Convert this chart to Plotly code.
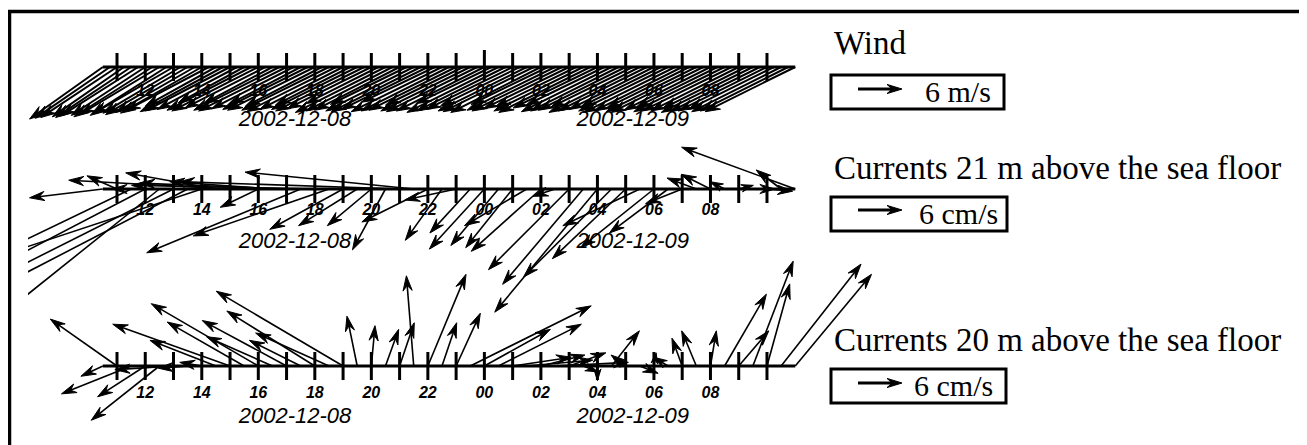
import math
import plotly.graph_objects as go

# ---------------- data ----------------
# wind samples every 15 min, hours since 2002-12-08 00:00
WIND_TIMES = [10.5, 10.75, 11.0, 11.25, 11.5, 11.75, 12.0, 12.25, 12.5, 12.75,
              13.0, 13.25, 13.5, 13.75, 14.0, 14.25, 14.5, 14.75, 15.0, 15.25,
              15.5, 15.75, 16.0, 16.25, 16.5, 16.75, 17.0, 17.25, 17.5, 17.75,
              18.0, 18.25, 18.5, 18.75, 19.0, 19.25, 19.5, 19.75, 20.0, 20.25,
              20.5, 20.75, 21.0, 21.25, 21.5, 21.75, 22.0, 22.25, 22.5, 22.75,
              23.0, 23.25, 23.5, 23.75, 24.0, 24.25, 24.5, 24.75, 25.0, 25.25,
              25.5, 25.75, 26.0, 26.25, 26.5, 26.75, 27.0, 27.25, 27.5, 27.75,
              28.0, 28.25, 28.5, 28.75, 29.0, 29.25, 29.5, 29.75, 30.0, 30.25,
              30.5, 30.75, 31.0, 31.25, 31.5, 31.75, 32.0, 32.25, 32.5, 32.75,
              33.0, 33.25, 33.5, 33.75, 34.0, 34.25, 34.5, 34.75, 35.0]
# wind, m/s (east, north)
WIND_U = [-10.0, -10.2, -10.4, -9.8, -10.3, -10.6, -10.1, -10.7, -10.9, -10.4,
          -11.0, -10.6, -11.2, -10.8, -11.1, -11.4,
          -9.6, -11.3, -11.6, -10.9, -9.0, -11.5, -11.8, -11.0, -9.4, -11.7,
          -12.0, -11.2, -9.8, -11.6, -11.9, -10.5,
          -11.9, -12.2, -11.4, -10.2, -11.7, -12.1, -11.5, -9.9, -12.3, -11.8,
          -11.6, -10.4, -12.0, -12.2, -11.8, -10.0,
          -12.4, -12.0, -11.9, -10.6, -12.2, -12.4, -12.0, -10.3, -12.5, -12.1,
          -11.8, -10.8, -12.1, -12.4, -12.3, -10.5,
          -12.0, -12.3, -11.7, -11.0, -12.2, -12.5, -11.5, -10.7, -12.3, -12.0,
          -11.9, -11.2, -12.4, -12.1, -11.6, -10.9,
          -12.2, -12.5, -12.0, -11.3, -12.3, -12.6, -11.8, -11.1, -12.4, -12.2,
          -12.0, -11.4, -12.5, -12.3, -12.1, -11.7,
          -12.2, -12.0, -12.3]
WIND_V = [-7.1, -7.0, -6.9, -6.8, -6.9, -6.7, -6.6, -6.8, -6.5, -6.6,
          -6.4, -6.3, -6.5, -6.2, -6.3, -6.0,
          -5.3, -6.1, -6.0, -5.8, -4.9, -5.9, -6.0, -5.6, -5.0, -5.9,
          -6.0, -5.7, -5.1, -5.8, -5.9, -5.4,
          -5.9, -6.1, -5.8, -5.2, -5.8, -6.0, -5.7, -5.0, -6.2, -6.0,
          -5.9, -5.1, -6.0, -6.1, -5.8, -4.8,
          -6.1, -6.0, -5.9, -5.2, -6.0, -6.1, -6.0, -5.0, -6.2, -6.0,
          -5.8, -5.3, -6.0, -6.1, -6.2, -5.1,
          -5.9, -6.0, -5.7, -5.4, -6.0, -6.2, -5.6, -5.2, -6.1, -6.0,
          -5.9, -5.5, -6.2, -6.0, -5.8, -5.4,
          -6.0, -6.2, -6.0, -5.6, -6.1, -6.2, -5.9, -5.5, -6.1, -6.0,
          -6.0, -5.7, -6.2, -6.1, -6.0, -5.8,
          -6.1, -6.0, -6.1]

# current samples every 30 min
CUR_TIMES = [10.5, 11.0, 11.5, 12.0, 12.5, 13.0, 13.5, 14.0, 14.5, 15.0,
             15.5, 16.0, 16.5, 17.0, 17.5, 18.0, 18.5, 19.0, 19.5, 20.0,
             20.5, 21.0, 21.5, 22.0, 22.5, 23.0, 23.5, 24.0, 24.5, 25.0,
             25.5, 26.0, 26.5, 27.0, 27.5, 28.0, 28.5, 29.0, 29.5, 30.0,
             30.5, 31.0, 31.5, 32.0, 32.5, 33.0, 33.5, 34.0, 34.5, 35.0]

# currents 21 m above the sea floor, cm/s
CUR21_U = [-10.0, -4.1, -17.7, -19.0, -20.5, -22.5, -24.5, -26.6, -12.3, -22.0,
           -18.0, -5.2, -14.0, -20.0, -21.0, -25.0, -18.5, -10.0, -8.0, -6.0,
           -4.5, -30.0, -23.0, -9.0, -5.0, -7.0, -5.5, -7.5, -6.5, -6.4,
           -8.5, -9.5, -3.0, -11.0, -11.0, -14.0, -12.0, -10.0, -10.5, -10.0,
           -8.0, -5.0, -4.0, -4.0, -2.0, 2.0, 3.0, 3.5, -3.4, -15.5]
CUR21_V = [-1.2, 1.8, -8.5, -9.9, -16.4, -11.3, -12.7, -8.8, 2.2, 1.2,
           0.0, -2.5, 1.0, 0.8, -8.7, 0.5, -6.4, -5.5, -5.0, -5.0,
           -8.3, 1.0, 2.3, -4.5, -7.0, -1.5, -6.0, -8.2, -7.7, -8.0,
           -5.0, -8.5, -1.0, -11.0, -13.0, -16.8, -12.0, -9.5, -5.0, -8.0,
           -6.0, -2.0, 1.5, 2.0, 1.0, 0.5, 0.0, -0.3, 2.6, 5.7]

# currents 20 m above the sea floor, cm/s
CUR20_U = [-3.0, -9.1, -9.5, -6.5, -9.3, -8.0, -4.0, -3.0, -9.0, -16.0,
           -10.5, -14.6, -9.0, -11.5, -7.0, -12.0, -10.0, -17.3, -1.4, 0.5,
           1.8, 2.0, -1.0, 5.2, 2.0, 3.3, 16.5, 9.0, 11.3, 8.0,
           9.0, 6.0, 10.0, 5.0, 2.0, 0.0, 3.8, -2.0, 2.5, 0.3,
           -2.0, -1.4, -2.0, 0.8, 5.7, 4.1, 5.5, 3.1, 10.9, 10.4]
CUR20_V = [-1.4, 6.4, -3.8, -4.2, -7.4, -0.5, -0.3, 0.5, 3.5, 5.7,
           6.0, 8.5, 4.0, 6.2, 3.5, 7.5, 4.5, 10.2, 6.8, 5.5,
           5.0, 5.9, 12.3, 12.5, 5.9, 7.2, 8.2, 5.0, 5.7, 1.2,
           0.8, 1.5, 0.5, 1.8, -0.8, -2.0, 4.8, 1.5, -1.0, 1.8,
           1.2, 3.8, 4.8, 4.8, 9.8, 4.8, 14.3, 11.2, 13.9, 12.5]

TICK_HOURS = [11, 12, 13, 14, 15, 16, 17, 18, 19, 20, 21, 22,
              23, 24, 25, 26, 27, 28, 29, 30, 31, 32, 33, 34]
LABEL_HOURS = [12, 14, 16, 18, 20, 22, 24, 26, 28, 30, 32]
LABEL_TEXT = ["12", "14", "16", "18", "20", "22", "00", "02", "04", "06", "08"]
DATE_HOURS = [17.3, 29.25]
DATE_TEXT = ["2002-12-08", "2002-12-09"]
MIDNIGHT = 24

PANEL_TITLES = ["Wind", "Currents 21 m above the sea floor",
                "Currents 20 m above the sea floor"]
SCALE_TEXT = ["6 m/s", "6 cm/s", "6 cm/s"]
SCALE_VALUE = 6.0

# ---------------- layout constants (pixels of the 1307x445 page) ----------------
PAGE_W, PAGE_H = 1307, 445
OFF = 8                  # default page margin around the figure
FIG_W, FIG_H = PAGE_W - OFF, PAGE_H - OFF
PX_PER_HOUR = 28.26
PX_11H = 117.0           # page pixel column of 11:00
CLIP_LEFT = 28           # page pixel of the left edge of the plotting area
BASE_PX = [67, 189, 366]
SCALE_PX = 44.0          # length of the 6-unit reference arrow
K = (SCALE_PX / SCALE_VALUE) / PX_PER_HOUR   # hours of axis per vector unit
TICK_HALF = 14
LABEL_OFF = [25, 22, 28]
DATE_OFF = [53, 53, 51]
HEAD_LEN = 15.0
HEAD_HALF_W = 4.6
SHAFT_W = [2.0, 1.6, 1.6]

TITLE_Y = [43, 168, 340]
BOX = [(831, 75, 1004, 109), (831, 197, 1007, 231), (831, 369, 1006, 403)]
SCALE_ARROW_X = [858, 858, 858]
SCALE_ARROW_Y = [89, 210, 383]
SCALE_TEXT_X = [923, 917, 912]


def hx(px):
    return 11 + (px - PX_11H) / PX_PER_HOUR


def vy(py):
    return (PAGE_H - py) / PX_PER_HOUR


def dd(px):
    return px / PX_PER_HOUR


def arrow_geometry(ts, us, vs, base):
    sx, sy, ax, ay = [], [], [], []
    for t, u, v in zip(ts, us, vs):
        dx, dy = u * K, v * K
        x1, y1 = t + dx, base + dy
        L = math.hypot(dx, dy)
        if L == 0:
            continue
        ex, ey = dx / L, dy / L
        hl = min(dd(HEAD_LEN), 0.8 * L)
        hw = dd(HEAD_HALF_W) * hl / dd(HEAD_LEN)
        nb = hl * 0.65
        sx += [t, x1 - ex * nb * 0.5, None]
        sy += [base, y1 - ey * nb * 0.5, None]
        bx, by = x1 - ex * hl, y1 - ey * hl
        nx, ny = x1 - ex * nb, y1 - ey * nb
        ax += [x1, bx - ey * hw, nx, bx + ey * hw, x1, None]
        ay += [y1, by + ex * hw, ny, by - ex * hw, y1, None]
    return sx, sy, ax, ay


fig = go.Figure()


def add_arrows(ts, us, vs, base, width=1.6):
    sx, sy, ax, ay = arrow_geometry(ts, us, vs, base)
    fig.add_trace(go.Scatter(x=sx, y=sy, mode="lines",
                             line=dict(color="black", width=width),
                             hoverinfo="skip", showlegend=False))
    fig.add_trace(go.Scatter(x=ax, y=ay, mode="lines", fill="toself",
                             fillcolor="black",
                             line=dict(color="black", width=1),
                             hoverinfo="skip", showlegend=False))


series = [(WIND_TIMES, WIND_U, WIND_V), (CUR_TIMES, CUR21_U, CUR21_V),
          (CUR_TIMES, CUR20_U, CUR20_V)]

for i, (ts, us, vs) in enumerate(series):
    base = vy(BASE_PX[i])
    fig.add_trace(go.Scatter(x=[ts[0], ts[-1]], y=[base, base], mode="lines",
                             line=dict(color="black", width=3),
                             hoverinfo="skip", showlegend=False))
    tx, ty = [], []
    for h in TICK_HOURS:
        top = TICK_HALF + (3 if (i == 0 and h == MIDNIGHT) else 0)
        tx += [h, h, None]
        ty += [base - dd(TICK_HALF), base + dd(top), None]
    fig.add_trace(go.Scatter(x=tx, y=ty, mode="lines",
                             line=dict(color="black", width=3),
                             hoverinfo="skip", showlegend=False))
    fig.add_trace(go.Scatter(x=LABEL_HOURS, y=[base - dd(LABEL_OFF[i])] * len(LABEL_HOURS),
                             mode="text", text=LABEL_TEXT,
                             textfont=dict(family="Liberation Sans", size=16,
                                           color="black", style="italic", weight="bold"),
                             hoverinfo="skip", showlegend=False))
    fig.add_trace(go.Scatter(x=DATE_HOURS, y=[base - dd(DATE_OFF[i])] * len(DATE_HOURS),
                             mode="text", text=DATE_TEXT,
                             textfont=dict(family="Liberation Sans", size=22,
                                           color="black", style="italic"),
                             hoverinfo="skip", showlegend=False))
    add_arrows(ts, us, vs, base, width=SHAFT_W[i])

annotations = []
shapes = []
for i in range(3):
    annotations.append(dict(x=hx(832), y=vy(TITLE_Y[i]), xref="x", yref="y",
                            text=PANEL_TITLES[i], showarrow=False,
                            xanchor="left", yanchor="middle",
                            font=dict(family="Liberation Serif", size=33, color="black")))
    x0, y0, x1, y1 = BOX[i]
    shapes.append(dict(type="rect", xref="x", yref="y",
                       x0=hx(x0), x1=hx(x1), y0=vy(y0), y1=vy(y1),
                       line=dict(color="black", width=3), fillcolor="rgba(0,0,0,0)"))
    add_arrows([hx(SCALE_ARROW_X[i])], [SCALE_VALUE], [0.0], vy(SCALE_ARROW_Y[i]), width=2.8)
    annotations.append(dict(x=hx(SCALE_TEXT_X[i]), y=vy((y0 + y1) / 2 - 1), xref="x", yref="y",
                            text=SCALE_TEXT[i], showarrow=False,
                            xanchor="left", yanchor="middle",
                            font=dict(family="Liberation Serif", size=30, color="black")))

# outer frame (paper coordinates relative to the plotting area)
pw = PAGE_W - CLIP_LEFT
ph = PAGE_H - OFF
shapes.append(dict(type="rect", xref="paper", yref="paper",
                   x0=(9.5 - CLIP_LEFT) / pw, x1=(1305.5 - CLIP_LEFT) / pw,
                   y0=(PAGE_H - 470) / ph, y1=(PAGE_H - 11.5) / ph,
                   line=dict(color="black", width=3.5), fillcolor="rgba(0,0,0,0)"))

fig.update_layout(
    width=FIG_W, height=FIG_H,
    margin=dict(l=CLIP_LEFT - OFF, r=0, t=0, b=0),
    paper_bgcolor="white", plot_bgcolor="white",
    xaxis=dict(range=[hx(CLIP_LEFT), hx(PAGE_W)], visible=False, fixedrange=True),
    yaxis=dict(range=[0, vy(OFF)], visible=False, fixedrange=True),
    annotations=annotations, shapes=shapes,
    showlegend=False,
)

fig.write_html("out.html")
